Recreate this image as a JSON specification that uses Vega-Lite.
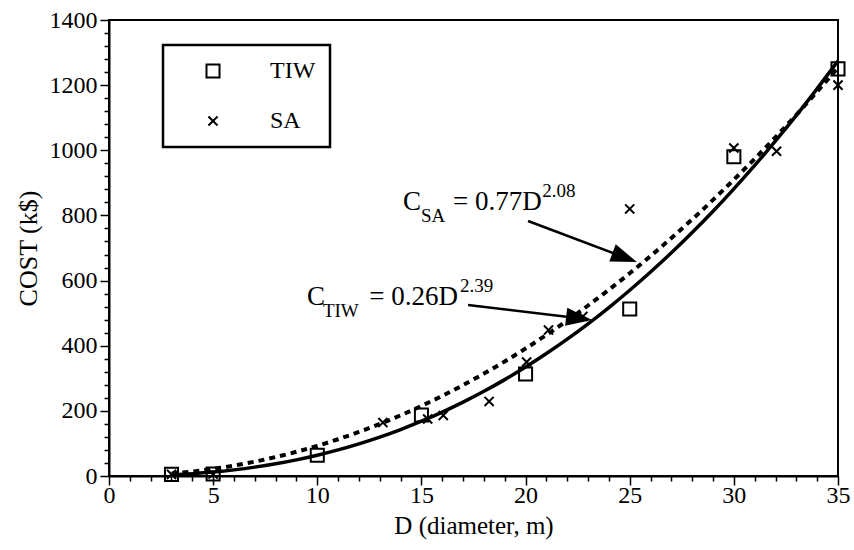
{
  "$schema": "https://vega.github.io/schema/vega-lite/v6.json",
  "width": 729,
  "height": 456,
  "autosize": "none",
  "padding": {"left": 109, "top": 20, "right": 16, "bottom": 74},
  "background": "white",
  "config": {
    "view": {"stroke": "black", "strokeWidth": 2},
    "axis": {
      "domainColor": "black", "domainWidth": 2, "tickColor": "black", "tickWidth": 1.5,
      "labelFont": "Liberation Serif", "labelFontSize": 24, "labelColor": "black",
      "titleFont": "Liberation Serif", "titleFontSize": 25, "titleFontWeight": "normal", "titleColor": "black",
      "grid": false, "labelOverlap": false
    },
    "legend": {
      "strokeColor": "black", "strokeWidth": 2.5, "padding": 14,
      "labelFont": "Liberation Serif", "labelFontSize": 24, "labelColor": "black",
      "symbolSize": 170, "symbolStrokeWidth": 2, "symbolStrokeColor": "black", "symbolFillColor": "transparent",
      "rowPadding": 26, "symbolOffset": 24, "labelOffset": 45
    }
  },
  "datasets": {
    "points": [
      {"series": "TIW", "D": 3, "cost": 5},
      {"series": "TIW", "D": 5, "cost": 6},
      {"series": "TIW", "D": 10, "cost": 64},
      {"series": "TIW", "D": 15, "cost": 187},
      {"series": "TIW", "D": 20, "cost": 313},
      {"series": "TIW", "D": 25, "cost": 513},
      {"series": "TIW", "D": 30, "cost": 980},
      {"series": "TIW", "D": 35, "cost": 1250},
      {"series": "SA", "D": 3, "cost": 5},
      {"series": "SA", "D": 5, "cost": 6},
      {"series": "SA", "D": 13.15, "cost": 164},
      {"series": "SA", "D": 15.3, "cost": 175},
      {"series": "SA", "D": 16.05, "cost": 186},
      {"series": "SA", "D": 18.25, "cost": 229},
      {"series": "SA", "D": 20.05, "cost": 350},
      {"series": "SA", "D": 21.1, "cost": 448},
      {"series": "SA", "D": 22.75, "cost": 490},
      {"series": "SA", "D": 25, "cost": 820},
      {"series": "SA", "D": 30, "cost": 1007},
      {"series": "SA", "D": 32.05, "cost": 997},
      {"series": "SA", "D": 35, "cost": 1200}
    ],
    "fits": [
      {"series": "TIW", "D": 3, "cost": 3.59}, {"series": "TIW", "D": 4, "cost": 7.14}, {"series": "TIW", "D": 5, "cost": 12.17},
      {"series": "TIW", "D": 6, "cost": 18.83}, {"series": "TIW", "D": 7, "cost": 27.2}, {"series": "TIW", "D": 8, "cost": 37.44},
      {"series": "TIW", "D": 9, "cost": 49.6}, {"series": "TIW", "D": 10, "cost": 63.8}, {"series": "TIW", "D": 11, "cost": 80.15},
      {"series": "TIW", "D": 12, "cost": 98.7}, {"series": "TIW", "D": 13, "cost": 119.4}, {"series": "TIW", "D": 14, "cost": 142.6},
      {"series": "TIW", "D": 15, "cost": 168.2}, {"series": "TIW", "D": 16, "cost": 196.3}, {"series": "TIW", "D": 17, "cost": 226.8},
      {"series": "TIW", "D": 18, "cost": 260.1}, {"series": "TIW", "D": 19, "cost": 295.9}, {"series": "TIW", "D": 20, "cost": 334.5},
      {"series": "TIW", "D": 21, "cost": 375.9}, {"series": "TIW", "D": 22, "cost": 420.0}, {"series": "TIW", "D": 23, "cost": 467.1},
      {"series": "TIW", "D": 24, "cost": 517.2}, {"series": "TIW", "D": 25, "cost": 570.3}, {"series": "TIW", "D": 26, "cost": 626.3},
      {"series": "TIW", "D": 27, "cost": 685.3}, {"series": "TIW", "D": 28, "cost": 747.6}, {"series": "TIW", "D": 29, "cost": 812.9},
      {"series": "TIW", "D": 30, "cost": 881.7}, {"series": "TIW", "D": 31, "cost": 953.5}, {"series": "TIW", "D": 32, "cost": 1028.6},
      {"series": "TIW", "D": 33, "cost": 1107.0}, {"series": "TIW", "D": 34, "cost": 1189.2}, {"series": "TIW", "D": 35, "cost": 1274.0},
      {"series": "SA", "D": 3, "cost": 7.57}, {"series": "SA", "D": 4, "cost": 13.76}, {"series": "SA", "D": 5, "cost": 21.9},
      {"series": "SA", "D": 6, "cost": 32.0}, {"series": "SA", "D": 7, "cost": 44.1}, {"series": "SA", "D": 8, "cost": 58.2},
      {"series": "SA", "D": 9, "cost": 74.3}, {"series": "SA", "D": 10, "cost": 92.6}, {"series": "SA", "D": 11, "cost": 112.9},
      {"series": "SA", "D": 12, "cost": 135.3}, {"series": "SA", "D": 13, "cost": 159.8}, {"series": "SA", "D": 14, "cost": 186.4},
      {"series": "SA", "D": 15, "cost": 215.2}, {"series": "SA", "D": 16, "cost": 246.1}, {"series": "SA", "D": 17, "cost": 279.2},
      {"series": "SA", "D": 18, "cost": 314.4}, {"series": "SA", "D": 19, "cost": 351.8}, {"series": "SA", "D": 20, "cost": 391.4},
      {"series": "SA", "D": 21, "cost": 433.2}, {"series": "SA", "D": 22, "cost": 477.1}, {"series": "SA", "D": 23, "cost": 523.5},
      {"series": "SA", "D": 24, "cost": 571.9}, {"series": "SA", "D": 25, "cost": 622.5}, {"series": "SA", "D": 26, "cost": 675.4},
      {"series": "SA", "D": 27, "cost": 730.6}, {"series": "SA", "D": 28, "cost": 788.0}, {"series": "SA", "D": 29, "cost": 847.8},
      {"series": "SA", "D": 30, "cost": 909.7}, {"series": "SA", "D": 31, "cost": 973.9}, {"series": "SA", "D": 32, "cost": 1040.3},
      {"series": "SA", "D": 33, "cost": 1109.0}, {"series": "SA", "D": 34, "cost": 1180.3}, {"series": "SA", "D": 35, "cost": 1253.3}
    ],
    "arrows": [
      {"arrow": "SA", "D": 20.12, "cost": 783, "D2": 24.76, "cost2": 671},
      {"arrow": "TIW", "D": 17.24, "cost": 525, "D2": 22.57, "cost2": 484}
    ],
    "heads": [
      {"arrow": "SA", "D": 24.76, "cost": 671},
      {"arrow": "TIW", "D": 22.57, "cost": 484}
    ],
    "texts": [
      {"label": "C", "role": "main", "D": 14.11, "cost": 817},
      {"label": "SA", "role": "sub", "D": 14.98, "cost": 780},
      {"label": "= 0.77D", "role": "main", "D": 16.52, "cost": 817},
      {"label": "2.08", "role": "sup", "D": 20.8, "cost": 857},
      {"label": "C", "role": "main", "D": 9.51, "cost": 525},
      {"label": "TIW", "role": "sub", "D": 10.27, "cost": 488},
      {"label": "= 0.26D", "role": "main", "D": 12.5, "cost": 525},
      {"label": "2.39", "role": "sup", "D": 16.85, "cost": 565}
    ]
  },
  "encoding": {
    "x": {
      "field": "D", "type": "quantitative",
      "scale": {"domain": [0, 35], "nice": false, "zero": false},
      "axis": {
        "title": "D (diameter, m)",
        "values": [0,1,2,3,4,5,6,7,8,9,10,11,12,13,14,15,16,17,18,19,20,21,22,23,24,25,26,27,28,29,30,31,32,33,34,35],
        "format": "d",
        "labelExpr": "datum.value % 5 === 0 ? datum.label : ''",
        "tickSize": {"condition": {"test": "datum.value % 5 === 0", "value": 9}, "value": 5},
        "labelPadding": -2, "labelFlush": false, "titlePadding": 6
      }
    },
    "y": {
      "field": "cost", "type": "quantitative",
      "scale": {"domain": [0, 1400], "nice": false},
      "axis": {
        "title": "COST (k$)",
        "titleFontSize": 26,
        "values": [0,40,80,120,160,200,240,280,320,360,400,440,480,520,560,600,640,680,720,760,800,840,880,920,960,1000,1040,1080,1120,1160,1200,1240,1280,1320,1360,1400],
        "format": "d",
        "labelExpr": "datum.value % 200 === 0 ? datum.label : ''",
        "tickSize": {"condition": {"test": "datum.value % 200 === 0", "value": 9}, "value": 5},
        "labelPadding": 3, "titlePadding": 8
      }
    }
  },
  "layer": [
    {
      "data": {"name": "fits"},
      "transform": [{"filter": "datum.series === 'SA'"}],
      "mark": {"type": "line", "color": "black", "strokeWidth": 4, "strokeDash": [6, 5], "interpolate": "monotone"}
    },
    {
      "data": {"name": "fits"},
      "transform": [{"filter": "datum.series === 'TIW'"}],
      "mark": {"type": "line", "color": "black", "strokeWidth": 3.5, "interpolate": "monotone"}
    },
    {
      "data": {"name": "points"},
      "mark": {"type": "point", "filled": false, "color": "black", "strokeWidth": 2, "size": 170, "opacity": 1},
      "encoding": {
        "shape": {
          "field": "series", "type": "nominal",
          "scale": {"domain": ["TIW", "SA"], "range": ["square", "M-0.7,-0.7L0.7,0.7M-0.7,0.7L0.7,-0.7"]},
          "legend": {"title": null, "orient": "none", "legendX": 54, "legendY": 25}
        }
      }
    },
    {
      "data": {"name": "arrows"},
      "mark": {"type": "rule", "color": "black", "strokeWidth": 2.5},
      "encoding": {
        "x2": {"field": "D2"},
        "y2": {"field": "cost2"}
      }
    },
    {
      "data": {"name": "heads"},
      "transform": [{"filter": "datum.arrow === 'SA'"}],
      "mark": {"type": "point", "filled": true, "color": "black", "opacity": 1, "size": 676, "shape": "M0,-1L0.7,1L-0.7,1Z", "angle": 110.6}
    },
    {
      "data": {"name": "heads"},
      "transform": [{"filter": "datum.arrow === 'TIW'"}],
      "mark": {"type": "point", "filled": true, "color": "black", "opacity": 1, "size": 676, "shape": "M0,-1L0.7,1L-0.7,1Z", "angle": 96.9}
    },
    {
      "data": {"name": "texts"},
      "transform": [{"filter": "datum.role === 'main'"}],
      "mark": {"type": "text", "font": "Liberation Serif", "fontSize": 27, "color": "black", "align": "left", "baseline": "alphabetic"},
      "encoding": {"text": {"field": "label"}}
    },
    {
      "data": {"name": "texts"},
      "transform": [{"filter": "datum.role !== 'main'"}],
      "mark": {"type": "text", "font": "Liberation Serif", "fontSize": 19, "color": "black", "align": "left", "baseline": "alphabetic"},
      "encoding": {"text": {"field": "label"}}
    }
  ]
}
